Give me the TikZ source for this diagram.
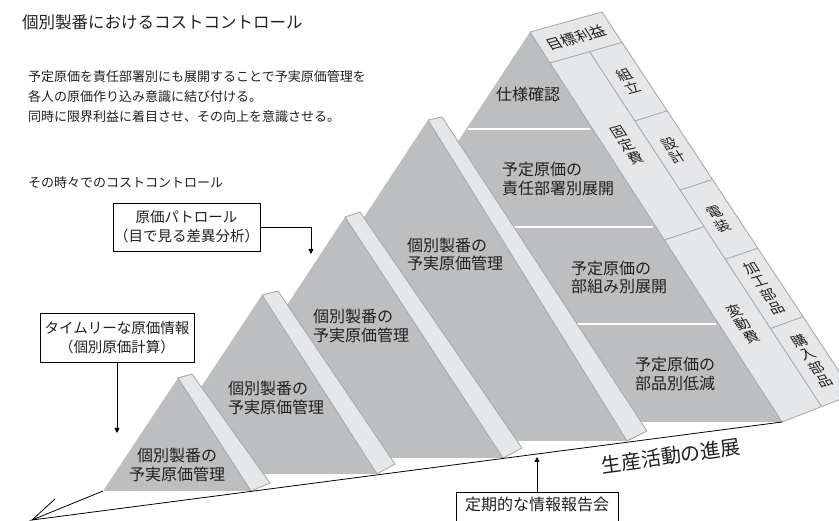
\documentclass[tikz,border=0pt]{standalone}
\usepackage{fontspec}
\setmainfont{Noto Sans CJK JP}
\usetikzlibrary{arrows.meta}
\definecolor{facec}{HTML}{BCBEC0}
\definecolor{stripc}{HTML}{E6E7E8}
\definecolor{edgec}{HTML}{A7A9AC}
\definecolor{ink}{HTML}{231F20}
\begin{document}
\begin{tikzpicture}[x=1pt,y=-1pt,
  facestyle/.style={fill=facec, draw=none},
  stripstyle/.style={fill=stripc, draw=edgec, line width=0.9pt, line join=round},
  cellline/.style={draw=edgec, line width=0.9pt},
  sepline/.style={draw=white, line width=1.4pt},
  ptext/.style={inner sep=0pt, text=ink, font=\fontsize{16}{18.5}\selectfont},
  stext/.style={inner sep=0pt, text=ink, font=\fontsize{14.5}{15.7}\selectfont, align=center,
     cm={0.9635,0.2676,-0.5428,0.8400,(0,0)}},
  htext/.style={inner sep=0pt, text=ink, anchor=west},
  boxstyle/.style={draw=black, line width=0.8pt, fill=white, text=ink, align=center,
     font=\fontsize{14.5}{19}\selectfont, inner sep=0pt},
  arr/.style={-{Triangle[length=5pt,width=5pt]}, line width=0.8pt, draw=black},
  axisline/.style={draw=black, line width=0.8pt}
]
\path[use as bounding box] (0,0) rectangle (839,521);
\clip (0,0) rectangle (839,521);

% ---------- headings ----------
\node[htext, font=\fontsize{16.5}{20}\selectfont] (title) at (22,22) {個別製番におけるコストコントロール};
\node[htext, font=\fontsize{13}{16}\selectfont] (para1) at (28,77) {予定原価を責任部署別にも展開することで予実原価管理を};
\node[htext, font=\fontsize{13}{16}\selectfont] (para2) at (28,97) {各人の原価作り込み意識に結び付ける。};
\node[htext, font=\fontsize{13}{16}\selectfont] (para3) at (28,117) {同時に限界利益に着目させ、その向上を意識させる。};
\node[htext, font=\fontsize{13}{16}\selectfont] (sub) at (28,183) {その時々でのコストコントロール};

% ---------- pyramid 5 ----------
\path[facestyle] (273.4,422) -- (530,32) -- (782,422) -- cycle;
\draw[sepline] (468,129) -- (590,129);
\draw[sepline] (404,227) -- (653,227);
\draw[sepline] (340,324) -- (716,324);
\path[stripstyle] (530,32) -- (602,12) -- (854,394) -- (782,422) -- cycle;
\draw[cellline] (550,63) -- (622,42.4);
\draw[cellline] (589.6,51.7) -- (821.6,406.6);
\draw[cellline] (634.9,120.9) -- (667.3,110.9);
\draw[cellline] (680.1,190.1) -- (712.5,179.5);
\draw[cellline] (725.3,259.3) -- (757.7,248.1);
\draw[cellline] (770.6,328.5) -- (803,316.6);
\draw[cellline] (664.4,240) -- (704,226.7);
\node[stext, font=\fontsize{15}{16}\selectfont] (mokuhyo) at (576,37.4) {目標利益};
\node[stext] (kumitate) at (628.4,81.5) {組\\立};
\node[stext] (sekkei) at (673.7,150.3) {設\\計};
\node[stext] (denso) at (718.9,219.2) {電\\装};
\node[stext] (kako) at (764.2,288.1) {加\\工\\部\\品};
\node[stext] (konyu) at (812,360.9) {購\\入\\部\\品};
\node[stext] (kotei) at (627,145.3) {固\\定\\費};
\node[stext] (hendo) at (743,323.8) {変\\動\\費};
\node[ptext, anchor=west] (shiyo) at (496,94) {仕様確認};
\node[ptext, anchor=west, align=left] (sekinin) at (502,179) {予定原価の\\責任部署別展開};
\node[ptext, anchor=west, align=left] (bukumi) at (571,277.5) {予定原価の\\部組み別展開};
\node[ptext, anchor=west, align=left] (buhin) at (635,374) {予定原価の\\部品別低減};

% ---------- pyramid 4 ----------
\path[facestyle] (216.8,441) -- (428,120) -- (627,441) -- cycle;
\path[stripstyle] (428,120) -- (442,117) -- (647,431) -- (627,441) -- cycle;
\node[ptext, anchor=west, align=left] (p4t) at (407,254.5) {個別製番の\\予実原価管理};

% ---------- pyramid 3 ----------
\path[facestyle] (186.4,458) -- (345,217) -- (503,458) -- cycle;
\path[stripstyle] (345,217) -- (360,212) -- (522,448) -- (503,458) -- cycle;
\node[ptext, anchor=west, align=left] (p3t) at (313,326) {個別製番の\\予実原価管理};

% ---------- pyramid 2 ----------
\path[facestyle] (143.6,474) -- (262,295) -- (377,474) -- cycle;
\path[stripstyle] (262,295) -- (278,291) -- (395,464) -- (377,474) -- cycle;
\node[ptext, anchor=west, align=left] (p2t) at (228,398) {個別製番の\\予実原価管理};

% ---------- pyramid 1 ----------
\path[facestyle] (103,491) -- (178,378) -- (251,491) -- cycle;
\path[stripstyle] (178,378) -- (192,374) -- (270,483) -- (251,491) -- cycle;
\node[ptext, align=center] (p1t) at (177,465) {個別製番の\\予実原価管理};

% ---------- base arrow ----------
\coordinate (tip) at (32,520);
\coordinate (wing) at (55,499);
\coordinate (p1l) at (103,491);
\coordinate (p5r) at (782,422);
\draw[axisline] (p1l) -- (tip) -- (p5r);
\draw[axisline] (tip) -- (wing);
\node[inner sep=0pt, text=ink, rotate=8, font=\fontsize{20}{24}\selectfont] (progress) at (671,456) {生産活動の進展};

% ---------- boxes ----------
\node[boxstyle, minimum width=147pt, minimum height=48pt] (b1) at (186.5,227) {原価パトロール\\（目で見る差異分析）};
\coordinate (a1end) at (311,254);
\draw[arr] (b1.east) -| (a1end);

\node[boxstyle, minimum width=154pt, minimum height=49pt] (b2) at (117,337.5) {タイムリーな原価情報\\（個別原価計算）};
\coordinate (a2end) at (117,433);
\draw[arr] (b2.south) -- (a2end);

\node[boxstyle, font=\fontsize{16}{19}\selectfont, minimum width=162pt, anchor=north,
      inner ysep=3pt, text height=15pt, text depth=20pt] (b3) at (537,492) {定期的な情報報告会};
\coordinate (a3end) at (537,457);
\draw[arr] (b3.north) -- (a3end);
\end{tikzpicture}
\end{document}
